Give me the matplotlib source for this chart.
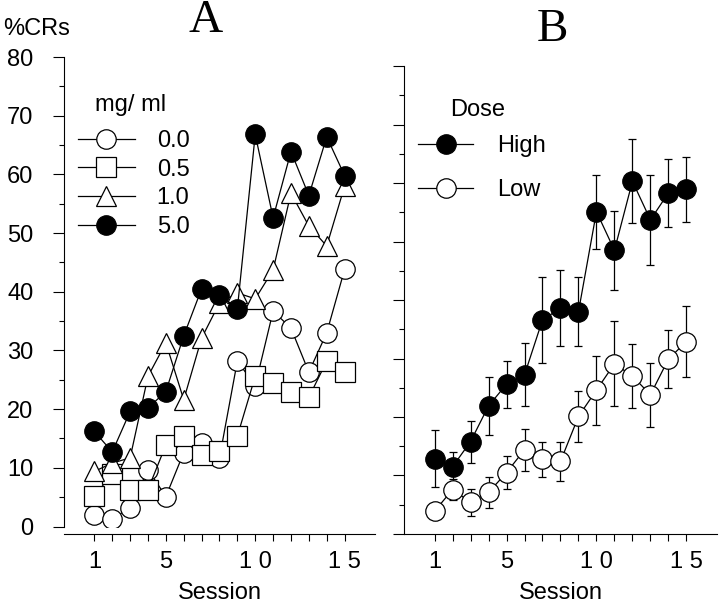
import numpy as np
import matplotlib.pyplot as plt

plt.rcParams['font.family'] = ['Liberation Sans', 'DejaVu Sans']

# session numbers and tick labels
sessions = np.arange(1, 16)
xtickLabels = ['1', '', '', '', '5', '', '', '', '', '1 0', '', '', '', '', '1 5']

# panel A: %CRs per concentration (mg/ml)
conc00 = [2.0, 1.3, 3.2, 9.7, 5.1, 12.6, 14.3, 11.7, 28.2, 24.0, 36.7, 33.8, 26.3, 33.0, 43.8]
conc05 = [5.2, 9.0, 6.3, 6.3, 13.9, 15.4, 12.1, 12.9, 15.4, 25.6, 24.5, 23.0, 22.0, 28.2, 26.3]
conc10 = [9.4, 10.8, 11.7, 25.6, 31.3, 21.6, 32.1, 38.1, 39.8, 38.8, 43.7, 56.8, 51.2, 47.8, 58.0]
conc50 = [16.2, 12.7, 19.6, 20.2, 23.0, 32.5, 40.5, 39.5, 37.1, 66.8, 52.6, 63.9, 56.4, 66.4, 59.8]
concLabels = ['0.0', '0.5', '1.0', '5.0']

# panel B: mean and SEM per dose group
highMean = [12.9, 11.5, 15.8, 21.9, 25.6, 27.2, 36.6, 38.6, 38.0, 55.1, 48.5, 60.3, 53.7, 58.3, 58.9]
highSem = [4.9, 2.6, 3.6, 5.0, 4.0, 5.4, 7.4, 6.5, 5.9, 6.3, 6.8, 7.2, 7.7, 5.8, 5.6]
lowMean = [3.9, 7.6, 5.4, 7.1, 10.5, 14.4, 12.8, 12.4, 20.1, 24.6, 29.1, 27.0, 23.8, 29.9, 32.9]
lowSem = [1.2, 1.8, 2.3, 2.7, 2.8, 3.6, 3.0, 3.3, 4.3, 5.9, 7.3, 5.5, 5.5, 5.0, 6.0]

FS = 17
MS = 14


def styleAxis(ax, showYLabels: bool, bottomOffset: float = 0):
    # spine position first, it resets the ticks
    ax.spines['bottom'].set_position(('outward', bottomOffset))
    ax.set_xlim(-0.7, 16.7)
    ax.set_ylim(0, 80)
    for side in ['top', 'right']:
        ax.spines[side].set_visible(False)
    ax.set_xticks(sessions)
    ax.set_xticklabels(xtickLabels)
    ax.set_yticks(np.arange(0, 81, 10))
    ax.set_yticks(np.arange(5, 80, 10), minor=True)
    ax.tick_params(axis='x', direction='out', length=5, width=0.8, pad=7, labelsize=FS)
    ax.tick_params(axis='y', which='major', direction='out', length=8, width=0.8, pad=14, labelsize=FS)
    ax.tick_params(axis='y', which='minor', direction='out', length=3.6, width=0.8)
    if not showYLabels:
        ax.set_yticklabels([])
    ax.set_xlabel('Session', fontsize=FS, labelpad=7)
    for side in ['left', 'bottom']:
        ax.spines[side].set_linewidth(0.8)


fig = plt.figure(figsize=(7.2, 6.04), dpi=100)

# ---- panel A
axA = fig.add_axes([0.0889, 0.1283, 0.4319, 0.7773])
styleAxis(axA, True, 5.4)

lineStyle = dict(color='black', lw=0.9, mec='black', mew=0.9, ms=MS)
lA = []
lA += axA.plot(sessions, conc00, marker='o', mfc='white', **lineStyle)
lA += axA.plot(sessions, conc05, marker='s', mfc='white', **lineStyle)
lA += axA.plot(sessions, conc10, marker='^', mfc='white', **lineStyle)
lA += axA.plot(sessions, conc50, marker='o', mfc='black', **lineStyle)

axA.legend(lA, concLabels, loc='upper left', bbox_to_anchor=(0.045, 0.845), frameon=False,
           fontsize=FS, handlelength=2.4, handletextpad=0.93, labelspacing=0.29,
           borderpad=0, borderaxespad=0, numpoints=1)
axA.text(0.1, 0.898, 'mg/ ml', transform=axA.transAxes, fontsize=FS, ha='left', va='center')

# ---- panel B
axB = fig.add_axes([0.5611, 0.1159, 0.4347, 0.7748])
styleAxis(axB, False)

ebStyle = dict(color='black', lw=0.9, mec='black', mew=0.9, ms=MS, elinewidth=0.9,
               capsize=3, capthick=0.9)
ebHigh = axB.errorbar(sessions, highMean, yerr=highSem, marker='o', mfc='black', **ebStyle)
ebLow = axB.errorbar(sessions, lowMean, yerr=lowSem, marker='o', mfc='white', **ebStyle)

axB.legend([ebHigh.lines[0], ebLow.lines[0]], ['High', 'Low'], loc='upper left',
           bbox_to_anchor=(0.045, 0.852), frameon=False, fontsize=FS, handlelength=2.33,
           handletextpad=1.0, labelspacing=0.93, borderpad=0, borderaxespad=0, numpoints=1)
axB.text(0.147, 0.905, 'Dose', transform=axB.transAxes, fontsize=FS, ha='left', va='center')

# titles and y label
fig.text(0.285, 0.965, 'A', fontsize=34, family='Liberation Serif', ha='center', va='center')
fig.text(0.767, 0.950, 'B', fontsize=34, family='Liberation Serif', ha='center', va='center')
fig.text(0.004, 0.952, '%CRs', fontsize=FS, ha='left', va='center')

fig.savefig('out.png', dpi=100)
